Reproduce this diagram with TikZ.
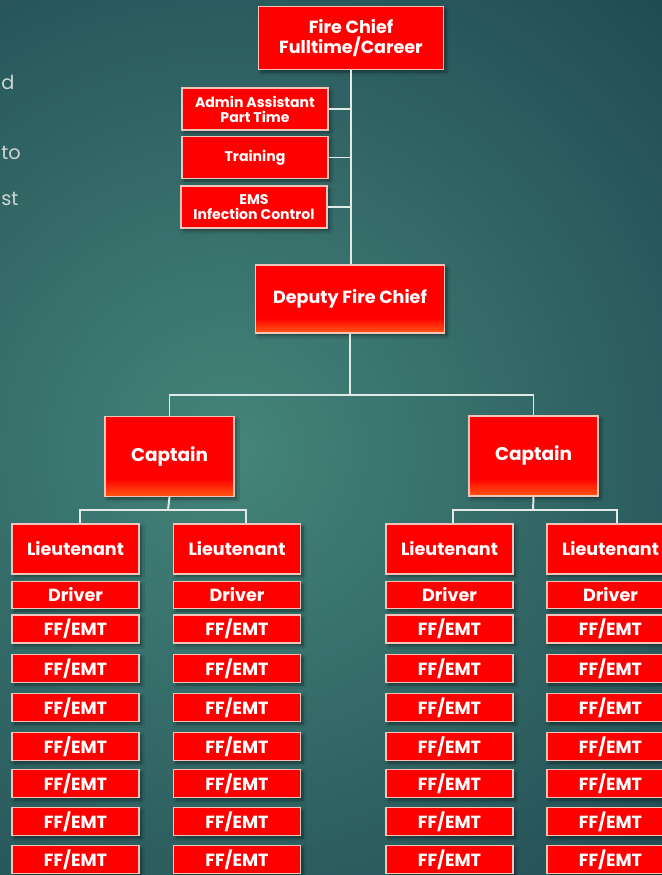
\documentclass[tikz,border=0pt]{standalone}
\usepackage{fontspec}
\setsansfont{Poppins}
\usepackage{tikz}
\usetikzlibrary{positioning, calc, shadows.blur}
\definecolor{slate}{HTML}{1F4851}
\definecolor{slatelight}{HTML}{44857A}
\definecolor{fire}{HTML}{FF0000}
\definecolor{ember}{HTML}{FF5A12}
\definecolor{rim}{HTML}{F0C4BA}
\definecolor{wire}{HTML}{E2EAE8}
\definecolor{ghost}{HTML}{CDD6D4}
\pgfdeclareverticalshading{firefade}{100bp}{color(0bp)=(ember); color(25bp)=(ember); color(36bp)=(fire); color(100bp)=(fire)}
\tikzset{
  box/.style      = {rectangle, draw=rim, line width=0.6pt, fill=fire, text=white,
                     align=center, inner sep=1pt,
                     font=\sffamily\bfseries\fontsize{10}{11.5}\selectfont,
                     blur shadow={shadow xshift=1.5pt, shadow yshift=-1.5pt,
                                  shadow blur steps=6, shadow opacity=45}},
  chiefbox/.style = {box, minimum width=3.7cm, minimum height=1.26cm},
  staff/.style    = {box, minimum width=2.92cm, minimum height=0.84cm,
                     font=\sffamily\bfseries\fontsize{8}{8.5}\selectfont},
  rank/.style     = {box, shade, shading=firefade},
  deputybox/.style= {rank, minimum width=3.78cm, minimum height=1.36cm},
  capbox/.style   = {rank, minimum width=2.58cm, minimum height=1.6cm,
                     font=\sffamily\bfseries\fontsize{10.5}{12}\selectfont},
  lieut/.style    = {box, minimum width=2.54cm, minimum height=1.0cm},
  driver/.style   = {box, minimum width=2.54cm, minimum height=0.54cm},
  crew/.style     = {box, minimum width=2.54cm, minimum height=0.56cm},
  link/.style     = {draw=wire, line width=1.1pt},
  fragment/.style = {text=ghost, font=\sffamily\fontsize{11}{13}\selectfont, inner sep=0pt},
}
\begin{document}
\begin{tikzpicture}[x=0.02cm, y=-0.02cm]

  \useasboundingbox (0,0) rectangle (662,875);
  \clip (0,0) rectangle (662,875);
  \fill[slate] (0,0) rectangle (662,875);
  \shade[inner color=slatelight, outer color=slate] (230,450) circle (13cm);

  % word ends of the slide text at the left edge
  \node[fragment, anchor=base west] (fragA) at (1,90) {d};
  \node[fragment, anchor=base west] (fragB) at (1,159) {to};
  \node[fragment, anchor=base west] (fragC) at (1,205) {st};

  % command staff
  \node[chiefbox] (chief) at (351,38) {Fire Chief \\ Fulltime/Career};
  \node[staff] (admin) at (255,109) {Admin Assistant \\ Part Time};
  \node[staff] (train) at (255,157.5) {Training};
  \node[staff] (ems) at (254,207) {EMS \\ Infection Control};
  \node[deputybox] (deputy) at (350,299) {Deputy Fire Chief};

  \node[capbox] (capL) at (169.5,456.5) {Captain};
  \node[capbox] (capR) at (533.5,456) {Captain};
  \coordinate (rankbar) at (350,395);
  \coordinate (barL) at (168,510);
  \coordinate (barR) at (533,510);

  % companies
  \foreach \col/\cx in {A/75.5, B/237, C/449.5, D/610.5} {
    \node[lieut] (lt\col) at (\cx,549) {Lieutenant};
    \node[driver] (dr\col) at (\cx,595) {Driver};
    \foreach \row/\ry in {1/629, 2/668.5, 3/707.5, 4/746.5, 5/783.5, 6/821.5, 7/859.5}
      \node[crew] (ff\col\row) at (\cx,\ry) {FF/EMT};
  }

  \draw[link] (chief.south) -- (chief.south |- deputy.north);
  \draw[link] (admin.east) -- (admin.east -| chief.south);
  \draw[link] (train.east) -- (train.east -| chief.south);
  \draw[link] (ems.east) -- (ems.east -| chief.south);

  \draw[link] (deputy.south) -- (rankbar);
  \draw[link] (capL.north) |- (rankbar) -| (capR.north);

  \draw[link] (capL.south) -- (barL);
  \draw[link] ([xshift=0.09cm]ltA.north) |- (barL) -| ([xshift=0.18cm]ltB.north);
  \draw[link] (capR.south) -- (barR);
  \draw[link] ([xshift=0.07cm]ltC.north) |- (barR) -| ([xshift=0.13cm]ltD.north);

\end{tikzpicture}
\end{document}
